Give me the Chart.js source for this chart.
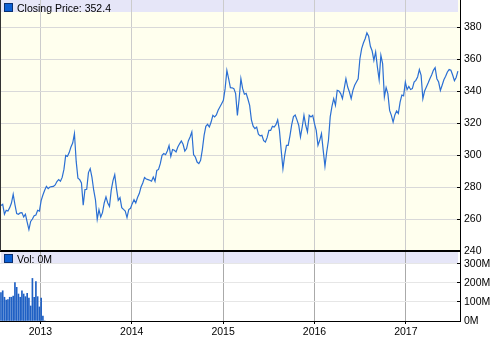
<!DOCTYPE html>
<html lang="en">
<head>
    <meta charset="UTF-8">
    <title>Closing Price</title>
    <script src="https://cdn.jsdelivr.net/npm/chart.js@4"></script>
    <style>
        body { margin: 0; background: #fff; }
        #wrap { position: relative; width: 500px; height: 342px; }
        #priceChart { position: absolute; left: 0; top: 0; }
        #volChart { position: absolute; left: 0; top: 252px; }
    </style>
</head>
<body>
<div id="wrap">
    <canvas id="priceChart" width="500" height="262"></canvas>
    <canvas id="volChart" width="500" height="90"></canvas>
</div>

<script>
    // weekly closes, first week ending 2012-07-27
    const startDate = new Date(2012, 6, 27);
    const closes = [
        268.4, 269.2, 263, 265.4, 265, 267.1, 270, 275.4, 269, 263.4,
        263, 263.8, 264, 261.3, 263, 258, 253.4, 258.5, 260, 262,
        262.5, 265.5, 265, 271.5, 275, 278, 280.4, 279, 280, 280.2,
        280.4, 281.3, 283.4, 284.6, 283.6, 286, 291, 299.8, 299.2, 301.5,
        305, 307.5, 313.4, 296, 285.5, 284.6, 282.5, 268.6, 278.4, 278.6,
        289, 291.5, 286, 278, 272, 259.8, 265.9, 261.3, 264, 270,
        273.8, 270, 267.9, 278, 284, 287.7, 279, 271.7, 273.4, 267.1,
        266, 265, 260.9, 265.9, 266.7, 269.6, 272.1, 270, 273.4, 275.9,
        280, 282.5, 285.9, 285, 284.6, 284.2, 283.6, 286.2, 283.6, 290.4,
        291, 294.6, 299.8, 300.9, 300.2, 302.5, 305.9, 299.2, 303.4, 303,
        301.9, 305, 307, 308.8, 306.7, 302.5, 304, 308.8, 311.3, 314.4,
        300.2, 298.8, 295.6, 294.6, 296.7, 303.4, 312.3, 317.9, 319.2, 317.5,
        320.6, 324.8, 323.8, 325, 328, 330, 332.1, 334.2, 341.5, 352.9,
        347.7, 342.1, 342, 341.5, 338.4, 324.8, 335, 347.7, 341.5, 338,
        338.5, 335, 331, 322, 318, 316.5, 317.5, 313, 312, 312.3,
        309, 308.1, 311, 315.4, 315.4, 317.9, 317.5, 319, 322, 315.4,
        302.9, 291.5, 299.8, 306, 306, 312, 319, 324, 325, 322,
        318.6, 311.3, 317.5, 324.8, 318.6, 314.4, 324.8, 323.8, 324.8, 319.6,
        315.4, 306, 309.2, 313.4, 302.9, 292.9, 301.9, 309.2, 323.8, 330.4,
        335.2, 331.1, 340.4, 340, 338.4, 335.2, 341.5, 347.7, 342.5, 339.4,
        335.2, 340.4, 343.6, 345.6, 347.7, 360.2, 366.5, 370, 372.7, 376.3,
        374.2, 368, 365, 359.2, 364.4, 355, 347.1, 362.3, 357.1, 336.3,
        342.1, 338.4, 327.9, 324.8, 320.6, 325, 327.5, 326, 333, 337.5,
        337, 345.6, 340.9, 342.9, 341, 341.5, 345.6, 346.7, 348.8, 353.4,
        349.8, 335.2, 340, 342.5, 345, 347.7, 350, 352.9, 354.6, 347.7,
        345.6, 340.4, 343.6, 347, 349.2, 351.9, 353.4, 353, 350, 346.5,
        348.5, 352.4
    ];
    // weekly volume in millions (only the first weeks carry volume)
    const volumes = [
        150, 159, 125, 110, 113, 125, 125, 131, 202, 177,
        142, 125, 159, 142, 128, 145, 120, 79, 224, 125,
        207, 128, 74, 121, 26, 0
    ];
    const yearTicks = [2013, 2014, 2015, 2016, 2017];
    const priceTicks = [240, 260, 280, 300, 320, 340, 360, 380];
    const volTicks = [0, 100, 200, 300];

    const xMin = 2012.5578;
    const xMax = 2017.5928;
    const labelFont = { family: 'Liberation Sans', size: 10.5 };

    function weekYear(i) {
        const d = new Date(startDate.getTime() + i * 7 * 86400000);
        const y = d.getFullYear();
        const y0 = new Date(y, 0, 1), y1 = new Date(y + 1, 0, 1);
        return y + (d - y0) / (y1 - y0);
    }

    // panel fill, legend band and legend text
    const panelDecor = {
        id: 'panelDecor',
        beforeDraw(chart, args, opts) {
            const { ctx, chartArea: a } = chart;
            ctx.save();
            ctx.fillStyle = opts.fill;
            ctx.fillRect(a.left, a.top, a.right - a.left, a.bottom - a.top);
            ctx.fillStyle = '#e6e6f8';
            ctx.fillRect(a.left + 1, a.top, a.right - a.left - 3, 12);
            ctx.restore();
        },
        afterDatasetsDraw(chart, args, opts) {
            const { ctx, chartArea: a } = chart;
            ctx.save();
            ctx.fillStyle = '#0c5fd4';
            ctx.fillRect(a.left + 5, a.top + opts.dy, 7, 7);
            ctx.strokeStyle = '#0a2f70';
            ctx.lineWidth = 1;
            ctx.strokeRect(a.left + 4.5, a.top + opts.dy - 0.5, 8, 8);
            ctx.fillStyle = '#000';
            ctx.font = '10.5px "Liberation Sans"';
            ctx.textBaseline = 'alphabetic';
            ctx.fillText(opts.text, a.left + 17, a.top + opts.dy + 7.5);
            if (opts.leftLine) {
                ctx.strokeStyle = '#333';
                ctx.beginPath();
                ctx.moveTo(a.left + 0.5, a.top);
                ctx.lineTo(a.left + 0.5, a.bottom);
                ctx.stroke();
            }
            ctx.restore();
        }
    };

    // right-hand value axis, tick marks pointing into the plot
    function rightAxis(ticks, min, max, gridColor, fmt) {
        return {
            position: 'right',
            min: min,
            max: max,
            afterBuildTicks: s => { s.ticks = ticks.map(v => ({ value: v })); },
            afterFit: s => { s.width = 40; s.paddingTop = 0; s.paddingBottom = 0; },
            ticks: { color: '#000', font: labelFont, padding: 7, callback: fmt },
            grid: { color: gridColor, tickColor: '#000', tickLength: -3 },
            border: { color: '#000', width: 1 }
        };
    }

    new Chart(document.getElementById('priceChart'), {
        type: 'line',
        data: {
            datasets: [{
                label: 'Closing Price',
                data: closes.map((v, i) => ({ x: weekYear(i), y: v })),
                borderColor: '#2b6fd3',
                borderWidth: 1.2,
                pointRadius: 0,
                tension: 0
            }]
        },
        options: {
            responsive: false,
            animation: false,
            layout: { padding: { left: 0, top: 0, right: 0, bottom: 11 } },
            plugins: {
                legend: { display: false },
                tooltip: { enabled: false },
                panelDecor: { fill: '#ffffee', dy: 4, leftLine: true,
                    text: 'Closing Price: ' + closes[closes.length - 1].toFixed(1) }
            },
            scales: {
                x: {
                    type: 'linear',
                    min: xMin,
                    max: xMax,
                    afterBuildTicks: s => { s.ticks = yearTicks.map(v => ({ value: v })); },
                    ticks: { display: false },
                    grid: { color: '#cccccc', drawTicks: false },
                    border: { color: '#000', width: 2 }
                },
                y: rightAxis(priceTicks, 240, 396.9, '#d9d9d9', v => String(v))
            }
        },
        plugins: [panelDecor]
    });

    new Chart(document.getElementById('volChart'), {
        type: 'bar',
        data: {
            datasets: [{
                label: 'Vol',
                data: volumes.map((v, i) => ({ x: weekYear(i), y: v })),
                backgroundColor: '#1f60c4',
                barThickness: 1
            }]
        },
        options: {
            responsive: false,
            animation: false,
            layout: { padding: 0 },
            plugins: {
                legend: { display: false },
                tooltip: { enabled: false },
                panelDecor: { fill: '#ffffff', dy: 3, leftLine: false,
                    text: 'Vol: ' + volumes[volumes.length - 1] + 'M' }
            },
            scales: {
                x: {
                    type: 'linear',
                    min: xMin,
                    max: xMax,
                    offset: false,
                    afterBuildTicks: s => { s.ticks = yearTicks.map(v => ({ value: v })); },
                    afterFit: s => { s.height = 21; },
                    ticks: { color: '#000', font: labelFont, padding: 2, maxRotation: 0, callback: v => String(v) },
                    grid: { color: '#aaaaaa', tickColor: '#000', tickLength: 3, offset: false },
                    border: { color: '#000', width: 1 }
                },
                y: rightAxis(volTicks, 0, 363, '#e6e6e6', v => v + 'M')
            }
        },
        plugins: [panelDecor]
    });
</script>
</body>
</html>
